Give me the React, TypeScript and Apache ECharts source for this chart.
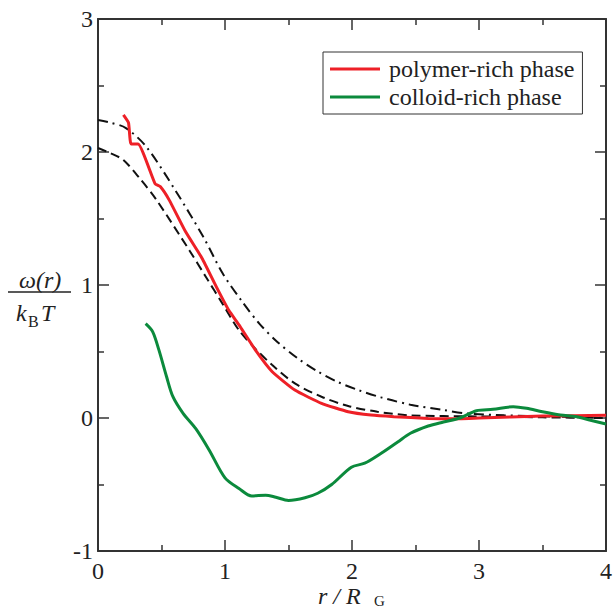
import React, { useEffect, useRef } from "react";
import * as echarts from "echarts";

const xTicks = [0, 1, 2, 3, 4];
const yTicks = [-1, 0, 1, 2, 3];

const polymerR = [0.2, 0.24, 0.26, 0.315, 0.45, 0.49, 0.56, 0.69, 0.82, 0.93, 1.03, 1.11, 1.24, 1.37, 1.55, 1.76, 1.97, 2.15, 2.33, 2.6, 2.85, 3.0, 3.5, 4.0];
const polymerW = [2.28, 2.22, 2.06, 2.06, 1.76, 1.74, 1.64, 1.4, 1.2, 0.99, 0.81, 0.7, 0.51, 0.35, 0.21, 0.11, 0.047, 0.022, 0.01, -0.003, -0.005, 0.0, 0.015, 0.02];

const colloidR = [0.375, 0.43, 0.48, 0.54, 0.59, 0.67, 0.77, 0.875, 1.0, 1.11, 1.21, 1.32, 1.4, 1.5, 1.63, 1.73, 1.84, 1.995, 2.1, 2.23, 2.36, 2.46, 2.6, 2.72, 2.85, 2.98, 3.11, 3.27, 3.375, 3.5, 3.64, 3.77, 3.87, 4.0];
const colloidW = [0.71, 0.65, 0.51, 0.31, 0.16, 0.035, -0.08, -0.24, -0.45, -0.53, -0.586, -0.58, -0.596, -0.62, -0.6, -0.566, -0.5, -0.37, -0.34, -0.265, -0.18, -0.115, -0.06, -0.03, 0.0, 0.055, 0.065, 0.085, 0.073, 0.047, 0.023, 0.01, -0.015, -0.045];

const dashedR = [0.0, 0.1, 0.2, 0.33, 0.46, 0.72, 0.85, 0.98, 1.11, 1.24, 1.37, 1.55, 1.76, 1.97, 2.2, 2.46, 2.98, 3.5, 4.0];
const dashedW = [2.03, 1.99, 1.94, 1.8, 1.64, 1.26, 1.06, 0.86, 0.66, 0.52, 0.4, 0.26, 0.16, 0.09, 0.047, 0.02, 0.012, 0.005, 0.0];

const dashDotR = [0.0, 0.1, 0.22, 0.38, 0.61, 0.83, 0.98, 1.135, 1.27, 1.41, 1.57, 1.73, 1.89, 2.05, 2.23, 2.46, 2.72, 2.9, 3.2, 3.6, 4.0];
const dashDotW = [2.24, 2.22, 2.18, 2.04, 1.71, 1.36, 1.09, 0.875, 0.71, 0.574, 0.45, 0.35, 0.27, 0.21, 0.155, 0.1, 0.06, 0.035, 0.02, 0.01, 0.0];

const seriesNames = ["polymer-rich phase", "colloid-rich phase"];

const zip = (a: number[], b: number[]) => a.map((x, i) => [x, b[i]]);

const FONT = "Liberation Serif";
const AXIS = "#333333";

export default function App() {
  const ref = useRef<HTMLDivElement>(null);
  useEffect(() => {
    document.body.style.margin = "0";
    const chart = echarts.init(ref.current!, null, { renderer: "svg" });
    const axisCommon = {
      type: "value",
      axisLine: { show: true, onZero: false, lineStyle: { color: AXIS, width: 2 } },
      axisTick: { show: true, inside: true, length: 11, lineStyle: { color: AXIS, width: 1.5 } },
      minorTick: { show: true, splitNumber: 2, length: 6, lineStyle: { color: AXIS, width: 1.5 } },
      splitLine: { show: false },
      minorSplitLine: { show: false },
    };
    chart.setOption({
      animation: false,
      backgroundColor: "#ffffff",
      grid: { left: 98, right: 5, top: 19, bottom: 59 },
      xAxis: [
        {
          ...axisCommon,
          min: xTicks[0],
          max: xTicks[xTicks.length - 1],
          interval: 1,
          position: "bottom",
          axisLabel: { show: true, margin: 8, fontSize: 24, color: "#222", fontFamily: FONT },
        },
        {
          ...axisCommon,
          min: xTicks[0],
          max: xTicks[xTicks.length - 1],
          interval: 1,
          position: "top",
          axisLabel: { show: false },
        },
      ],
      yAxis: [
        {
          ...axisCommon,
          min: yTicks[0],
          max: yTicks[yTicks.length - 1],
          interval: 1,
          position: "left",
          axisLabel: { show: true, margin: 5, fontSize: 24, color: "#222", fontFamily: FONT },
        },
        {
          ...axisCommon,
          min: yTicks[0],
          max: yTicks[yTicks.length - 1],
          interval: 1,
          position: "right",
          axisLabel: { show: false },
        },
      ],
      legend: {
        data: seriesNames,
        orient: "vertical",
        left: 323,
        top: 52,
        padding: [5, 8, 5, 7],
        itemGap: 4,
        itemWidth: 50,
        itemHeight: 3,
        icon: "rect",
        borderColor: "#333",
        borderWidth: 1,
        borderRadius: 0,
        textStyle: { fontFamily: FONT, fontSize: 24, color: "#222", padding: [0, 0, 0, 4] },
      },
      graphic: [
        { type: "text", left: 19, top: 268, style: { text: "ω(r)", font: `italic 24px ${FONT}`, fill: "#222" } },
        { type: "line", shape: { x1: 8, y1: 292, x2: 71, y2: 292 }, style: { stroke: "#222", lineWidth: 1.5 } },
        { type: "text", left: 16, top: 301, style: { text: "k", font: `italic 24px ${FONT}`, fill: "#222" } },
        { type: "text", left: 28, top: 313, style: { text: "B", font: `16px ${FONT}`, fill: "#222" } },
        { type: "text", left: 41, top: 301, style: { text: "T", font: `italic 24px ${FONT}`, fill: "#222" } },
        { type: "text", left: 318, top: 584, style: { text: "r / R", font: `italic 24px ${FONT}`, fill: "#222" } },
        { type: "text", left: 374, top: 593, style: { text: "G", font: `15px ${FONT}`, fill: "#222" } },
      ],
      series: [
        {
          name: "dashed",
          type: "line",
          data: zip(dashedR, dashedW),
          symbol: "none",
          smooth: 0.3,
          lineStyle: { color: "#111", width: 2, type: [9, 5] },
          z: 2,
        },
        {
          name: "dashdot",
          type: "line",
          data: zip(dashDotR, dashDotW),
          symbol: "none",
          smooth: 0.3,
          lineStyle: { color: "#111", width: 2, type: [10, 5, 2, 5] },
          z: 2,
        },
        {
          name: seriesNames[0],
          type: "line",
          data: zip(polymerR, polymerW),
          symbol: "none",
          smooth: 0.15,
          itemStyle: { color: "#ee2027" },
          lineStyle: { color: "#ee2027", width: 3 },
          z: 3,
        },
        {
          name: seriesNames[1],
          type: "line",
          data: zip(colloidR, colloidW),
          symbol: "none",
          smooth: 0.3,
          itemStyle: { color: "#0b8a3c" },
          lineStyle: { color: "#0b8a3c", width: 3 },
          z: 3,
        },
      ],
    });
    return () => chart.dispose();
  }, []);
  return <div ref={ref} style={{ width: 615, height: 610 }} />;
}
